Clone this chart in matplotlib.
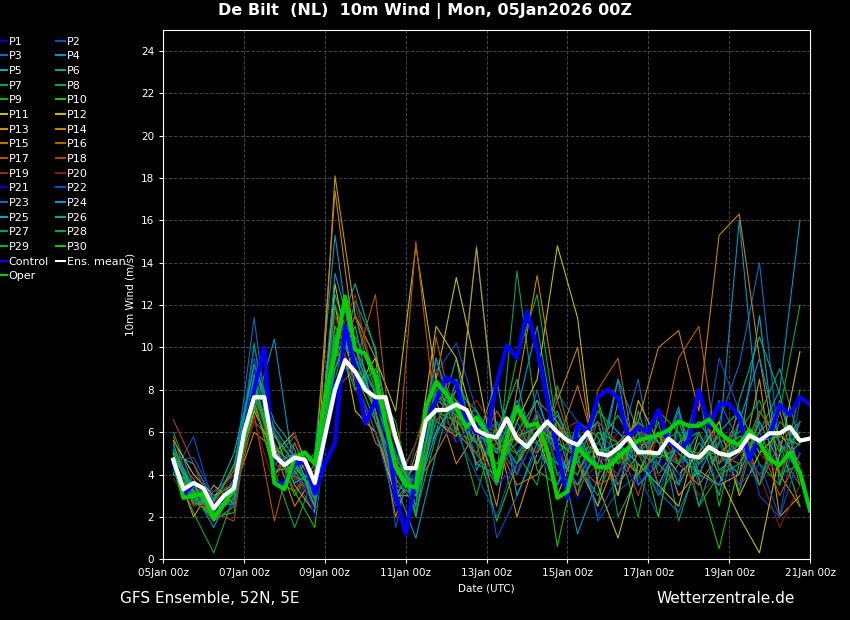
import matplotlib
matplotlib.use('Agg')
import matplotlib.pyplot as plt

# time axis in hours since 05Jan2026 00z
hours6 = [6 * k for k in range(1, 65)]
hours12 = [6 + 12 * j for j in range(32)]

ens_mean = [4.7, 3.3, 3.6, 3.35, 2.4, 3.0, 3.35, 6.0, 7.65, 7.65, 4.9, 4.45, 4.8, 4.7, 3.6, 5.8,
            8.0, 9.4, 8.85, 8.0, 7.65, 7.65, 5.75, 4.3, 4.3, 6.55, 7.05, 7.05, 7.3, 7.05, 6.1, 5.85,
            5.75, 6.65, 5.7, 5.3, 5.95, 6.5, 6.0, 5.6, 5.4, 6.0, 5.0, 4.9, 5.25, 5.75, 5.05, 5.05,
            5.0, 5.7, 5.3, 4.9, 4.8, 5.3, 5.0, 4.9, 5.15, 5.85, 5.6, 5.95, 5.95, 6.25, 5.6, 5.7]
control = [4.5, 3.0, 3.6, 3.4, 2.4, 3.0, 3.3, 6.0, 8.0, 10.0, 3.6, 3.6, 4.5, 4.6, 3.1, 4.5,
           5.5, 11.0, 9.0, 6.4, 7.5, 6.5, 3.0, 1.2, 4.0, 6.5, 7.5, 8.6, 8.3, 6.5, 6.0, 5.8,
           8.3, 10.1, 9.5, 11.7, 9.9, 7.5, 5.15, 2.9, 6.4, 6.0, 7.65, 8.0, 7.65, 5.75, 6.25, 6.0,
           7.05, 5.6, 5.15, 5.6, 8.0, 6.25, 7.3, 7.35, 6.7, 4.7, 5.75, 5.8, 7.3, 6.8, 7.65, 7.3]
oper = [4.7, 2.9, 3.0, 3.1, 1.95, 2.6, 3.3, 5.75, 7.65, 7.6, 3.6, 3.3, 4.8, 5.05, 4.5, 7.6,
        9.7, 12.4, 9.9, 9.7, 8.6, 6.4, 4.35, 3.5, 3.4, 7.2, 8.35, 7.8, 7.1, 6.25, 6.7, 6.0,
        3.7, 5.75, 7.2, 6.3, 6.4, 5.15, 2.9, 3.2, 5.3, 4.75, 4.35, 4.35, 4.8, 5.25, 5.6, 5.75,
        5.85, 6.1, 6.5, 6.3, 6.3, 6.6, 6.0, 5.6, 5.4, 6.1, 5.5, 4.7, 4.45, 5.05, 4.1, 2.3]

# perturbations, 12-hourly from 06z
perts = [
    [5.2, 3.8, 2.0, 2.8, 8.5, 5.0, 4.2, 3.0, 7.5, 10.5, 6.8, 5.2, 3.0, 6.5, 8.2, 5.0, 3.5, 4.2, 6.8, 5.5, 2.8, 4.0, 6.2, 3.5, 4.8, 3.0, 6.5, 7.2, 4.5, 3.8, 6.0, 4.2],
    [4.0, 5.8, 2.5, 3.0, 9.5, 5.5, 3.8, 2.2, 9.0, 12.0, 8.5, 1.5, 5.5, 8.8, 10.2, 7.0, 1.0, 3.0, 5.2, 7.8, 6.5, 1.8, 3.2, 4.0, 2.0, 6.8, 3.5, 9.5, 7.0, 3.0, 2.0, 7.5],
    [5.5, 2.5, 3.2, 4.0, 11.4, 4.0, 5.5, 3.5, 8.0, 9.0, 7.5, 5.0, 2.5, 9.5, 6.0, 14.8, 5.5, 4.5, 8.0, 4.0, 3.5, 6.0, 5.0, 8.5, 3.2, 2.2, 4.5, 6.5, 9.2, 14.0, 5.0, 3.5],
    [4.8, 3.2, 1.5, 3.5, 7.0, 10.4, 4.0, 5.0, 15.3, 8.5, 6.0, 3.5, 1.0, 5.0, 8.5, 6.5, 4.0, 7.0, 11.0, 5.5, 1.2, 3.8, 8.5, 6.0, 4.5, 7.2, 2.5, 5.5, 16.0, 6.0, 8.0, 16.0],
    [5.0, 4.5, 2.8, 5.0, 9.0, 6.2, 4.8, 2.5, 10.5, 13.0, 9.8, 4.5, 3.5, 7.8, 6.8, 5.5, 8.5, 3.0, 5.5, 6.8, 4.8, 2.5, 7.5, 5.2, 6.0, 3.5, 8.0, 4.2, 5.0, 11.5, 3.5, 6.5],
    [4.2, 3.0, 1.8, 2.5, 8.0, 4.8, 5.8, 3.8, 12.5, 9.5, 7.0, 2.8, 4.0, 6.0, 9.5, 4.2, 6.0, 8.5, 4.2, 3.5, 6.5, 5.8, 3.0, 7.0, 4.0, 5.5, 6.0, 3.0, 7.5, 10.5, 7.8, 4.0],
    [6.0, 3.5, 2.2, 3.8, 6.5, 5.5, 3.0, 4.5, 9.5, 11.5, 7.8, 5.5, 2.0, 8.0, 7.5, 6.0, 3.8, 13.6, 6.5, 4.0, 5.0, 7.5, 2.0, 4.0, 6.5, 1.8, 4.8, 5.8, 3.2, 6.8, 9.0, 5.5],
    [4.5, 2.2, 0.3, 3.0, 10.2, 4.2, 1.5, 4.0, 8.5, 12.2, 10.0, 3.8, 2.5, 7.0, 6.5, 3.0, 6.5, 5.0, 3.5, 8.2, 4.5, 3.0, 5.5, 2.0, 7.0, 6.0, 2.5, 4.0, 5.5, 3.5, 7.0, 12.0],
    [5.0, 3.0, 2.5, 4.5, 7.5, 5.8, 4.5, 2.8, 11.0, 9.0, 8.0, 6.5, 2.2, 5.8, 8.0, 7.0, 5.0, 9.5, 12.5, 6.0, 3.0, 5.5, 6.8, 5.0, 3.0, 4.5, 8.0, 2.5, 6.5, 4.5, 3.5, 8.0],
    [4.3, 2.8, 2.0, 2.2, 8.8, 3.8, 3.2, 1.5, 9.8, 8.8, 6.5, 3.5, 5.5, 8.5, 6.0, 5.5, 1.8, 4.5, 6.8, 0.6, 5.0, 7.5, 4.5, 6.0, 2.0, 6.5, 3.8, 0.5, 4.5, 7.0, 5.5, 2.5],
    [5.6, 4.0, 3.0, 3.5, 7.0, 5.0, 6.0, 3.2, 13.0, 8.0, 9.5, 7.0, 14.8, 8.5, 13.3, 9.0, 4.0, 6.5, 8.5, 14.8, 11.4, 3.5, 1.0, 4.5, 3.5, 2.5, 6.0, 4.0, 2.0, 0.3, 5.0, 9.8],
    [4.0, 3.2, 2.5, 3.0, 7.5, 4.0, 5.0, 3.5, 12.0, 7.0, 6.0, 3.0, 4.5, 11.0, 9.5, 6.0, 3.5, 4.5, 6.0, 3.0, 5.5, 6.5, 3.0, 7.5, 5.5, 4.0, 5.0, 6.5, 3.0, 5.0, 6.0, 4.5],
    [4.6, 2.0, 3.5, 2.6, 8.0, 6.0, 3.5, 2.2, 18.1, 11.5, 9.5, 3.0, 3.0, 6.5, 5.8, 14.7, 6.0, 2.0, 5.0, 6.5, 4.5, 2.5, 5.0, 4.0, 6.0, 3.0, 4.2, 3.5, 4.0, 8.5, 2.0, 3.0],
    [5.0, 3.5, 1.8, 3.2, 6.0, 5.2, 2.5, 4.0, 17.4, 10.0, 7.0, 2.0, 5.0, 7.5, 4.5, 6.0, 2.5, 8.0, 13.4, 7.5, 10.0, 3.5, 5.5, 6.5, 10.0, 10.8, 7.0, 15.3, 16.3, 9.5, 4.0, 2.5],
    [4.4, 2.6, 2.8, 4.2, 7.2, 4.8, 4.2, 2.6, 10.0, 8.5, 5.5, 4.5, 3.5, 5.0, 6.8, 4.5, 5.5, 3.5, 4.0, 5.5, 8.2, 4.8, 3.5, 5.0, 7.0, 4.5, 3.5, 5.0, 4.5, 6.0, 7.0, 3.5],
    [5.8, 3.0, 2.0, 3.6, 8.2, 5.5, 3.2, 4.5, 9.0, 11.5, 8.5, 6.0, 2.5, 10.5, 6.0, 5.0, 7.0, 5.5, 7.5, 6.5, 3.0, 8.0, 9.5, 4.0, 5.0, 9.5, 11.0, 4.5, 7.0, 3.5, 5.5, 6.5],
    [4.8, 3.8, 2.4, 2.8, 6.8, 1.8, 5.5, 3.0, 11.5, 9.2, 12.5, 3.5, 15.0, 6.5, 8.0, 5.5, 4.5, 6.0, 5.0, 7.5, 4.5, 3.5, 4.0, 6.5, 3.5, 5.5, 4.5, 6.0, 5.0, 5.5, 3.0, 5.0],
    [6.6, 4.5, 2.2, 1.8, 8.5, 4.5, 4.0, 2.5, 12.0, 9.0, 7.0, 4.0, 4.5, 8.0, 5.5, 6.5, 5.5, 4.0, 7.0, 5.0, 4.0, 6.5, 5.5, 3.0, 6.0, 4.5, 7.5, 5.0, 3.5, 7.0, 5.5, 4.5],
    [4.5, 3.0, 3.2, 3.5, 7.5, 5.0, 3.8, 3.5, 10.0, 12.5, 8.0, 5.5, 3.0, 7.0, 6.5, 7.5, 6.0, 7.0, 4.5, 6.0, 6.5, 5.0, 4.0, 6.5, 4.5, 3.5, 5.5, 4.5, 6.5, 5.0, 4.0, 6.0],
    [3.8, 2.5, 2.6, 4.0, 6.5, 3.5, 6.0, 2.8, 11.5, 8.0, 6.5, 3.2, 5.5, 9.0, 7.0, 5.0, 4.0, 5.5, 6.5, 4.5, 3.5, 4.5, 6.0, 5.0, 4.0, 5.0, 3.0, 4.0, 5.0, 4.0, 1.5, 3.5],
    [5.3, 3.5, 2.5, 3.0, 9.0, 4.5, 5.0, 2.0, 8.5, 10.0, 7.5, 4.0, 2.5, 6.5, 5.5, 6.5, 3.5, 4.5, 5.0, 3.5, 4.0, 5.5, 4.5, 3.5, 5.0, 4.0, 6.0, 3.5, 4.5, 5.5, 6.0, 5.0],
    [4.7, 4.8, 3.0, 2.5, 8.0, 5.5, 4.0, 3.0, 9.5, 8.5, 6.0, 2.5, 4.0, 7.0, 6.0, 4.0, 2.0, 5.0, 7.0, 4.5, 6.0, 2.0, 4.0, 5.5, 3.0, 6.0, 4.5, 5.5, 3.5, 4.5, 2.0, 5.0],
    [4.9, 3.3, 2.2, 3.8, 10.0, 6.0, 4.5, 3.5, 10.5, 9.5, 8.0, 5.0, 3.5, 8.0, 8.5, 5.5, 6.5, 4.0, 6.0, 5.5, 5.0, 6.5, 3.5, 6.0, 5.5, 4.5, 5.0, 7.5, 5.5, 4.0, 5.0, 6.5],
    [5.1, 2.8, 2.6, 2.6, 8.5, 4.5, 5.0, 2.8, 13.5, 10.0, 7.0, 3.0, 4.5, 9.5, 6.5, 6.0, 5.0, 7.5, 5.5, 3.5, 5.5, 4.5, 8.5, 3.5, 4.5, 7.0, 4.0, 3.5, 6.5, 9.5, 5.5, 4.0],
    [4.1, 3.6, 1.9, 3.3, 7.8, 5.2, 3.6, 4.2, 9.0, 11.0, 6.5, 4.5, 3.0, 6.0, 7.5, 4.5, 4.0, 6.0, 7.5, 5.0, 3.5, 5.0, 5.5, 4.5, 3.5, 5.5, 6.5, 5.0, 4.0, 6.5, 4.5, 5.5],
    [5.4, 3.1, 2.7, 4.4, 9.2, 6.5, 5.2, 2.4, 10.5, 8.0, 9.0, 6.0, 2.0, 7.5, 7.0, 7.0, 5.5, 5.0, 6.0, 7.0, 4.5, 7.0, 6.0, 5.0, 6.0, 5.0, 4.0, 6.0, 7.0, 5.0, 7.5, 4.0],
    [4.6, 2.9, 2.3, 3.1, 7.3, 4.2, 4.3, 3.3, 12.0, 9.0, 7.5, 4.5, 3.5, 6.5, 6.0, 5.0, 3.5, 6.5, 4.5, 6.5, 5.0, 5.5, 4.5, 5.0, 4.5, 3.5, 5.5, 4.5, 5.5, 3.5, 6.5, 5.5],
    [5.2, 3.4, 2.9, 3.6, 8.7, 5.8, 4.6, 2.9, 9.5, 10.5, 8.5, 5.5, 2.5, 8.5, 7.5, 6.5, 6.0, 4.5, 6.5, 5.0, 6.0, 4.0, 5.0, 6.5, 5.5, 6.0, 4.5, 5.5, 6.0, 7.5, 5.0, 6.0],
    [4.4, 2.7, 2.1, 2.9, 7.9, 4.9, 3.9, 3.6, 11.0, 9.5, 7.0, 3.5, 3.0, 7.0, 6.5, 5.5, 4.5, 5.5, 5.5, 4.5, 4.0, 6.0, 5.5, 4.0, 5.0, 4.5, 6.0, 4.0, 4.5, 6.0, 4.0, 4.5],
    [5.0, 3.2, 2.5, 3.4, 8.2, 5.3, 4.4, 3.1, 10.0, 10.0, 7.8, 4.8, 3.2, 7.8, 7.2, 6.0, 5.2, 5.8, 6.2, 5.5, 4.8, 5.2, 5.0, 5.2, 4.8, 5.2, 5.0, 5.0, 5.8, 5.6, 5.8, 5.4],
]

colors = ['#0000c8', '#0050c8', '#006ec8', '#0096c8', '#00aabe', '#00aa8c',
          '#00a064', '#00aa3c', '#00b41e', '#1ebe00', '#bebe00', '#c8b400',
          '#c89600', '#c88200', '#c86e00', '#be5a00', '#be5000', '#b43c14',
          '#a02814', '#8c1414']
colors = colors + colors[:10]

fig = plt.figure(figsize=(8.5, 6.2), dpi=100, facecolor='black')
ax = fig.add_axes([0.192, 0.098, 0.761, 0.854], facecolor='black')

handles = []
for i, p in enumerate(perts):
    h, = ax.plot(hours12, p, color=colors[i], lw=0.8, label=f'P{i+1}')
    handles.append(h)
hc, = ax.plot(hours6, control, color='#0000ff', lw=3, label='Control')
ho, = ax.plot(hours6, oper, color='#00d200', lw=3, label='Oper')
hm, = ax.plot(hours6, ens_mean, color='white', lw=3, label='Ens. mean')

ax.set_xlim(0, 384)
ax.set_ylim(0, 25)
ax.set_yticks(range(0, 25, 2))
days = ['05Jan', '07Jan', '09Jan', '11Jan', '13Jan', '15Jan', '17Jan', '19Jan', '21Jan']
ax.set_xticks(range(0, 385, 48))
ax.set_xticklabels([d + ' 00z' for d in days])
ax.tick_params(colors='white', labelsize=7.5, length=3)
ax.grid(color='#444444', linestyle='--', lw=0.7)
for s in ax.spines.values():
    s.set_color('white')
ax.set_xlabel('Date (UTC)', color='white', fontsize=7.5)
ax.set_ylabel('10m Wind (m/s)', color='white', fontsize=7.5)

# legend filled row-wise like the original
col1 = handles[0::2] + [hc, ho]
col2 = handles[1::2] + [hm]
leg = fig.legend(col1 + col2, [h.get_label() for h in col1 + col2], ncol=2,
                 loc='upper left', bbox_to_anchor=(-0.008, 0.948), frameon=False,
                 fontsize=8, labelcolor='white', handlelength=0.8, handletextpad=0.2,
                 columnspacing=0.6, labelspacing=0.42, borderaxespad=0)
for h in leg.get_lines():
    h.set_linewidth(1.5)

fig.text(0.5, 0.982, 'De Bilt  (NL)  10m Wind | Mon, 05Jan2026 00Z', color='white',
         fontsize=11.5, fontweight='bold', ha='center', va='center')
fig.text(0.141, 0.035, 'GFS Ensemble, 52N, 5E', color='white', fontsize=11, va='center')
fig.text(0.935, 0.035, 'Wetterzentrale.de', color='white', fontsize=11, va='center', ha='right')

fig.savefig('out.png', dpi=100, facecolor='black')
